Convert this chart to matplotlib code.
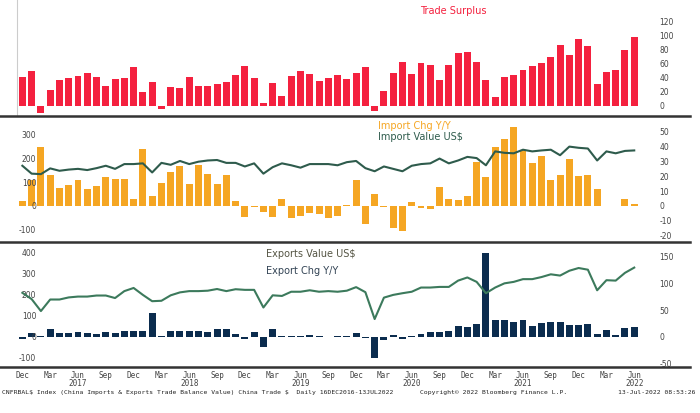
import numpy as np
import matplotlib
matplotlib.use("Agg")
import matplotlib.pyplot as plt
from matplotlib.lines import Line2D

plt.rcParams["axes.unicode_minus"] = False

surplus = [41, 50, -10, 23, 37, 40, 42, 46, 41, 28, 38, 40, 55, 20, 33, -5, 27, 25, 41, 28,
           28, 31, 34, 43, 57, 39, 4, 32, 14, 42, 50, 45, 35, 40, 43, 38, 47, 55, -7, 21,
           46, 62, 45, 60, 58, 36, 58, 75, 76, 62, 36, 13, 41, 44, 51, 56, 60, 69, 86, 72,
           95, 85, 31, 48, 51, 79, 98]
import_chg = [20, 108, 245, 128, 75, 88, 108, 72, 85, 120, 112, 113, 30, 238, 42, 95, 140, 168, 90, 172,
              132, 92, 128, 20, -45, -5, -25, -45, 28, -50, -40, -30, -35, -50, -40, 5, 107, -75, 48, -5,
              -90, -105, 15, -8, -12, 80, 30, 25, 42, 185, 122, 248, 280, 330, 235, 178, 208, 110, 130, 198,
              125, 130, 70, 0, 0, 28, 8]
import_val = [168, 135, 133, 157, 147, 152, 155, 150, 158, 168, 155, 175, 175, 178, 140, 180, 172, 188, 175, 185,
              190, 192, 180, 180, 165, 178, 135, 162, 178, 170, 160, 175, 175, 175, 170, 183, 188, 158, 145, 165,
              155, 145, 168, 175, 178, 198, 178, 190, 205, 200, 170, 228, 222, 220, 235, 228, 232, 235, 212, 248,
              243, 240, 190, 228, 220, 230, 232]
export_chg = [-12, 18, 2, 38, 18, 20, 25, 18, 12, 22, 18, 30, 30, 30, 112, 5, 30, 30, 28, 30,
              25, 38, 38, 12, -8, 22, -50, 38, 2, 5, 2, 8, 2, -2, 2, 2, 20, -5, -100, -15,
              10, -8, 5, 15, 22, 25, 28, 52, 48, 62, 400, 80, 82, 72, 82, 52, 65, 72, 70, 58,
              55, 62, 15, 35, 8, 42, 45]
export_val = [210, 180, 123, 178, 178, 188, 192, 192, 197, 197, 185, 218, 233, 200, 170, 172, 198, 212, 218, 218,
              220, 228, 218, 227, 224, 224, 140, 198, 195, 215, 215, 222, 215, 218, 215, 220, 237, 213, 85, 187,
              200, 208, 215, 235, 235, 238, 238, 268, 283, 262, 208, 235, 255, 262, 275, 275, 285, 298, 292, 315,
              328, 320, 222, 270, 268, 305, 330]
month_names = ["Dec", "Mar", "Jun", "Sep"]
years = ["2017", "2018", "2019", "2020", "2021", "2022"]

x = np.arange(len(surplus))
red, orange, navy = "#F4213F", "#F5A623", "#0B2C4E"
dkgreen, green = "#2E5B4C", "#3C7A5C"
tick_kw = dict(labelsize=5.5, colors="#444444", length=0)
mono = "DejaVu Sans Mono"

fig = plt.figure(figsize=(7, 4.13), dpi=100)
xl = 0.024
w = 0.89

# top panel
ax1 = fig.add_axes([xl, 0.72, w, 0.28])
ax1.bar(x, surplus, width=0.75, color=red)
ax1.set_ylim(-14, 150)
ax1.set_xlim(-0.6, len(x) - 0.4)
ax1.yaxis.tick_right()
ax1.set_yticks(range(0, 121, 20))
ax1.tick_params(axis="y", pad=14, **tick_kw)
ax1.set_xticks([])
for s in ["top", "right", "bottom"]:
    ax1.spines[s].set_visible(False)
ax1.spines["left"].set_color("#cccccc")
ax1.text(0.70, 0.88, "Trade Surplus", color=red, fontsize=7, transform=ax1.transAxes, ha="center")

# middle panel
ax2 = fig.add_axes([xl, 0.419, w, 0.295])
ax2.bar(x, import_chg, width=0.75, color=orange)
ax2.plot(x, import_val, color=dkgreen, lw=1.5)
ax2.set_ylim(-142, 367)
ax2.set_xlim(-0.6, len(x) - 0.4)
ax2.set_yticks([-100, 0, 100, 200, 300])
ax2.tick_params(axis="y", pad=-14, **tick_kw)
ax2.set_xticks([])
r2 = ax2.twinx()
r2.set_ylim(-142 * 0.16, 367 * 0.16)
r2.set_yticks(range(-20, 51, 10))
r2.tick_params(axis="y", pad=14, **tick_kw)
for a in (ax2, r2):
    for s in a.spines.values():
        s.set_visible(False)
ax2.text(0.58, 0.91, "Import Chg Y/Y", color=orange, fontsize=7, transform=ax2.transAxes)
ax2.text(0.58, 0.82, "Import Value US\\$", color=dkgreen, fontsize=7, transform=ax2.transAxes)

# bottom panel
ax3 = fig.add_axes([xl, 0.109, w, 0.298])
ax3.bar(x, export_chg, width=0.75, color=navy)
ax3.plot(x, export_val, color=green, lw=1.5)
ax3.set_ylim(-148, 438)
ax3.set_xlim(-0.6, len(x) - 0.4)
ax3.set_yticks([-100, 0, 100, 200, 300, 400])
ax3.tick_params(axis="y", pad=-14, **tick_kw)
r3 = ax3.twinx()
r3.set_ylim(-148 * 0.394, 438 * 0.394)
r3.set_yticks([-50, 0, 50, 100, 150])
r3.tick_params(axis="y", pad=14, **tick_kw)
for a in (ax3, r3):
    for s in a.spines.values():
        s.set_visible(False)
ax3.text(0.40, 0.9, "Exports Value US\\$", color="#555544", fontsize=7, transform=ax3.transAxes)
ax3.text(0.40, 0.76, "Export Chg Y/Y", color="#334455", fontsize=7, transform=ax3.transAxes)
ticks = list(range(0, len(x), 3))
labels = []
for i in ticks:
    lab = month_names[(i // 3) % 4]
    if lab == "Jun":
        lab += "\n" + years[i // 12]
    labels.append(lab)
ax3.set_xticks(ticks)
ax3.set_xticklabels(labels, fontsize=5.5, color="#444444", linespacing=0.95, family=mono, va="top")
ax3.tick_params(axis="x", length=0, pad=2)

# separators
for yy in [0.718, 0.415, 0.112]:
    fig.add_artist(Line2D([0, 0.985], [yy, yy], color="#333333", lw=1.8))

foot = dict(fontsize=4.6, family=mono, color="#222222")
fig.text(0.003, 0.045, "CNFRBAL\\$ Index (China Imports & Exports Trade Balance Value) China Trade \\$  Daily 16DEC2016-13JUL2022", **foot)
fig.text(0.6, 0.045, "Copyright\u00a9 2022 Bloomberg Finance L.P.", **foot)
fig.text(0.993, 0.045, "13-Jul-2022 08:53:26", ha="right", **foot)

fig.savefig("out.png", dpi=100, facecolor="white")
